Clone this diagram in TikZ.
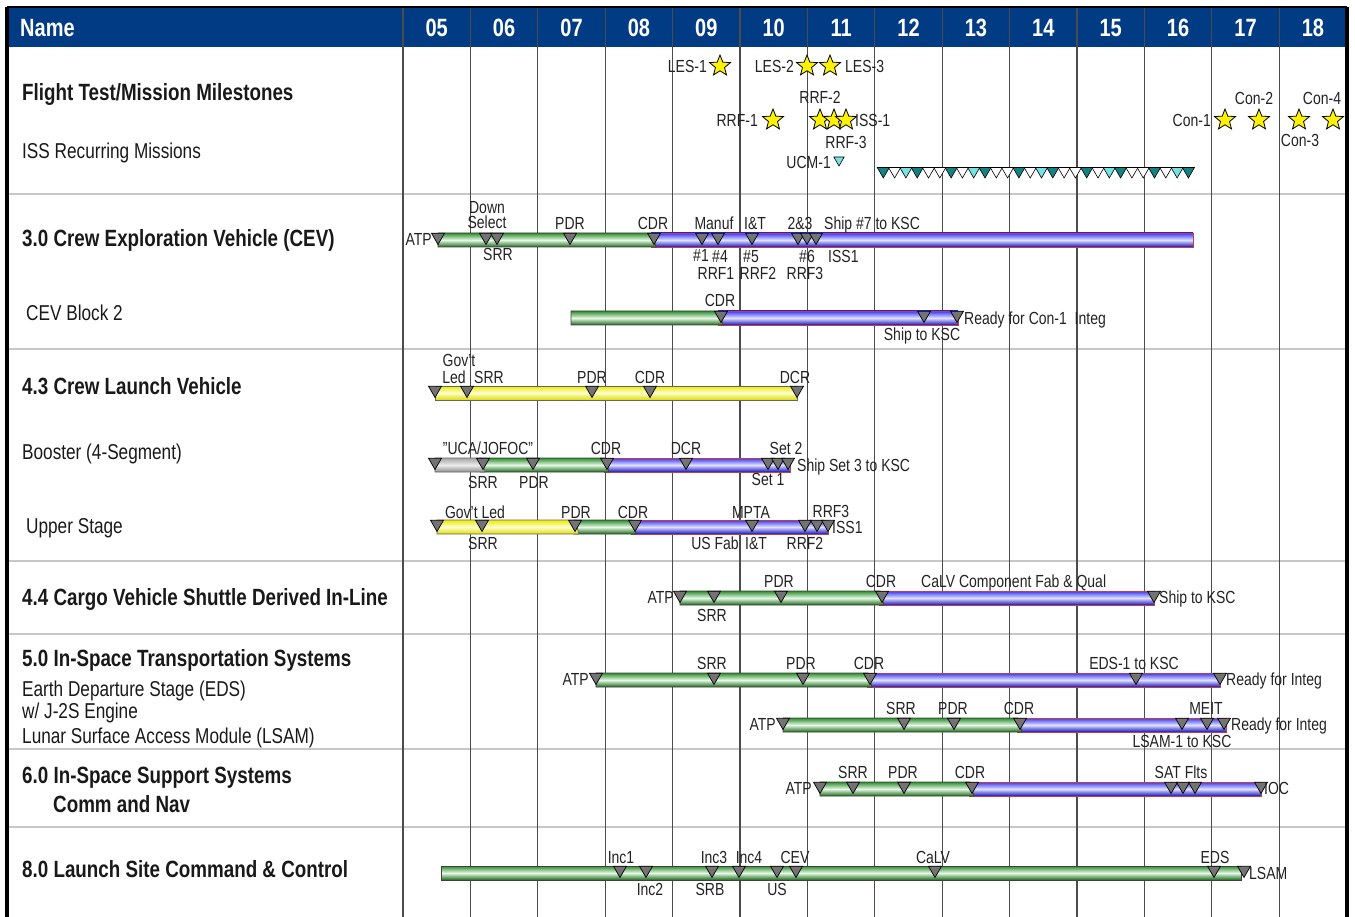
\documentclass[tikz,border=0pt]{standalone}
\usepackage{fontspec}
\setmainfont{Liberation Sans}[FakeStretch=0.8]
\usetikzlibrary{shapes.geometric}
\definecolor{hdrblue}{RGB}{0,59,132}
\definecolor{gtop}{RGB}{45,140,45}
\definecolor{gmid}{RGB}{230,248,230}
\definecolor{gbot}{RGB}{25,105,25}
\definecolor{btop}{RGB}{55,55,245}
\definecolor{bmid}{RGB}{225,225,255}
\definecolor{bbot}{RGB}{20,20,190}
\definecolor{bline}{RGB}{200,60,60}
\definecolor{ytop}{RGB}{235,235,0}
\definecolor{ymid}{RGB}{255,255,210}
\definecolor{ybot}{RGB}{220,220,0}
\definecolor{teal1}{RGB}{20,130,130}
\definecolor{cyan1}{RGB}{120,225,225}
\definecolor{lblgray}{RGB}{35,35,35}

\begin{document}
\begin{tikzpicture}[x=1pt,y=-1pt]
\tikzset{
  yr/.style={font=\fontsize{25}{27}\selectfont\bfseries, text=white, inner sep=0pt, text height=17.9pt, text depth=0pt},
  head/.style={font=\fontsize{23.5}{25}\selectfont\bfseries, text=black!90, anchor=west, inner sep=0pt, text height=16.8pt, text depth=0pt},
  sub/.style={font=\fontsize{21.5}{23}\selectfont, text=black!90, anchor=west, inner sep=0pt, text height=15.4pt, text depth=0pt},
  lbl/.style={font=\fontsize{17.5}{19}\selectfont, text=lblgray, inner sep=0pt, text height=12.5pt, text depth=0pt},
  tri/.style={regular polygon, regular polygon sides=3, shape border rotate=180, draw=black, fill=black!55, minimum size=15pt, inner sep=0pt, line width=0.7pt},
  misstri/.style={regular polygon, regular polygon sides=3, shape border rotate=180, draw=black, minimum size=14pt, inner sep=0pt, line width=0.6pt},
  ftstar/.style={star, star points=5, star point ratio=2.3, draw=black, fill=yellow, minimum size=22pt, inner sep=0pt, line width=0.8pt},
  greenbar/.style={draw=black!75, line width=0.8pt, top color=gtop, bottom color=gbot, middle color=gmid},
  bluebar/.style={draw=bline, line width=0.8pt, top color=btop, bottom color=bbot, middle color=bmid},
  yellowbar/.style={draw=black!60, line width=0.8pt, top color=ytop, bottom color=ybot, middle color=ymid},
  graybar/.style={draw=black!60, line width=0.8pt, top color=black!35, bottom color=black!45, middle color=black!8},
  gridline/.style={draw=black!70, line width=1.2pt},
  divider/.style={draw=black!22, line width=2.5pt}
}
\useasboundingbox (0,0) rectangle (1355,917);

% header
\fill[hdrblue] (7,7) rectangle (1347,47);
\node[yr, anchor=west] (hname) at (20,28) {Name};
\foreach \t [count=\k from 0] in {05,06,07,08,09,10,11,12,13,14,15,16,17,18}
  \node[yr] (yr\t) at ({403+67.4*(\k+0.5)},28) {\t};

% grid
\foreach \y in {194,349,561,634,749,827}
  \draw[divider] (9,\y) -- (1345,\y);
\foreach \k in {0,...,13}
  \draw[gridline] ({403+67.4*\k},7) -- ({403+67.4*\k},917);
\draw[line width=4pt] (7,7) -- (7,917);
\draw[line width=4pt] (1347,7) -- (1347,917);
\draw[line width=2pt] (7,7) -- (1347,7);

% row names
\node[head] (nflight) at (22,92) {Flight Test/Mission Milestones};
\node[sub] (niss) at (22,151) {ISS Recurring Missions};
\node[head] (ncev) at (22,238) {3.0 Crew Exploration Vehicle (CEV)};
\node[sub] (nblock) at (26,313) {CEV Block 2};
\node[head] (nclv) at (22,386) {4.3 Crew Launch Vehicle};
\node[sub] (nbooster) at (22,452) {Booster (4-Segment)};
\node[sub] (nupper) at (26,526) {Upper Stage};
\node[head] (ncalv) at (22,597) {4.4 Cargo Vehicle Shuttle Derived In-Line};
\node[head] (nist) at (22,658) {5.0 In-Space Transportation Systems};
\node[sub] (neds) at (22,689) {Earth Departure Stage (EDS)};
\node[sub] (nj2s) at (22,711) {w/ J-2S Engine};
\node[sub] (nlsam) at (22,736) {Lunar Surface Access Module (LSAM)};
\node[head] (niss6) at (22,775) {6.0 In-Space Support Systems};
\node[head] (ncomm) at (53,804) {Comm and Nav};
\node[head] (nlaunch) at (22,869) {8.0 Launch Site Command \& Control};

% milestones
\foreach \x/\y [count=\i] in {720/66,807/66,830/66,773/120,820/120,834/120,846/120,1225/120,1259/120,1299/120,1333/120}
  \node[ftstar] (star\i) at (\x,\y) {};
\node[lbl, anchor=east] (les1) at (707,66) {LES-1};
\node[lbl, anchor=east] (les2) at (794,66) {LES-2};
\node[lbl, anchor=west] (les3) at (845,66) {LES-3};
\node[lbl] (rrf2) at (820,97) {RRF-2};
\node[lbl, anchor=east] (rrf1) at (758,120) {RRF-1};
\node[lbl, anchor=west] (iss1) at (855,120) {ISS-1};
\node[lbl] (rrf3) at (846,142) {RRF-3};
\node[lbl, anchor=east] (ucm1) at (831,162) {UCM-1};
\node[misstri, fill=cyan1, minimum size=12pt] (ucmtri) at (839,160) {};
\node[lbl, anchor=east] (con1) at (1211,120) {Con-1};
\node[lbl] (con2) at (1254,98) {Con-2};
\node[lbl] (con4) at (1322,98) {Con-4};
\node[lbl] (con3) at (1300,140) {Con-3};
\foreach \c [count=\i from 0] in {teal1,white,cyan1,teal1,white,white,teal1,white,cyan1,teal1,white,white,teal1,white,cyan1,teal1,white,white,teal1,white,cyan1,teal1,white,white,teal1,white,cyan1,teal1}
  \node[misstri, fill=\c] (iss\i) at ({883.3+11.3*\i},171) {};

% 3.0 CEV
\shade[bluebar] (651,233) rectangle (1193,247);
\shade[greenbar] (438,233) -- (652,233) -- (656,247) -- (438,247) -- cycle;
\foreach \x [count=\i] in {438,486,497,570,654,702,718,752,798,807,816}
  \node[tri] (cevm\i) at (\x,237) {};
\node[lbl, anchor=east] (cevatp) at (432,239) {ATP};
\foreach \x/\y/\t [count=\i] in {487/207/Down,487/222/Select,570/223/PDR,653/223/CDR,714/223/Manuf,755/223/I\&T,800/223/2\&3,498/254/SRR,701/255/\#1,720/256/\#4,716/273/RRF1,751/256/\#5,758/273/RRF2,807/256/\#6,805/273/RRF3}
  \node[lbl] (cevl\i) at (\x,\y) {\t};
\node[lbl, anchor=west] (cevship) at (824,223) {Ship \#7 to KSC};
\node[lbl, anchor=west] (ceviss) at (828,256) {ISS1};

% CEV Block 2
\shade[bluebar] (718,311) rectangle (958,325);
\shade[greenbar] (571,311) -- (719,311) -- (723,325) -- (571,325) -- cycle;
\foreach \x [count=\i] in {721,924,957}
  \node[tri] (blkm\i) at (\x,315) {};
\node[lbl] (blkcdr) at (720,300) {CDR};
\node[lbl] (blkship) at (922,334) {Ship to KSC};
\node[lbl, anchor=west] (blkready) at (964,318) {Ready for Con-1~ Integ};

% 4.3 CLV
\shade[yellowbar] (435,386) rectangle (797,400);
\foreach \x [count=\i] in {435,467,592,650,797}
  \node[tri] (clvm\i) at (\x,390) {};
\foreach \x/\y/\t [count=\i] in {459/360/Gov't,454/377/Led,489/377/SRR,592/377/PDR,650/377/CDR,795/377/DCR}
  \node[lbl] (clvl\i) at (\x,\y) {\t};

% Booster
\shade[bluebar] (604,458) rectangle (790,472);
\shade[greenbar] (480,458) -- (605,458) -- (609,472) -- (480,472) -- cycle;
\shade[graybar] (435,458) -- (481,458) -- (485,472) -- (435,472) -- cycle;
\foreach \x [count=\i] in {435,483,533,607,686,768,778,788}
  \node[tri] (bstm\i) at (\x,462) {};
\node[lbl] (bstuca) at (488,448) {"UCA/JOFOC"};
\foreach \x/\y/\t [count=\i] in {483/482/SRR,534/482/PDR,606/448/CDR,686/448/DCR,786/448/Set 2,768/479/Set 1}
  \node[lbl] (bstl\i) at (\x,\y) {\t};
\node[lbl, anchor=west] (bstship) at (797,465) {Ship Set 3 to KSC};

% Upper Stage
\shade[bluebar] (631,520) rectangle (828,534);
\shade[greenbar] (574,520) -- (632,520) -- (636,534) -- (574,534) -- cycle;
\shade[yellowbar] (437,520) -- (575,520) -- (579,534) -- (437,534) -- cycle;
\foreach \x [count=\i] in {437,482,575,635,752,805,817,828}
  \node[tri] (usm\i) at (\x,524) {};
\foreach \x/\y/\t [count=\i] in {475/512/Gov't Led,483/543/SRR,576/512/PDR,633/512/CDR,751/512/MPTA,715/543/US Fab,756/543/I\&T,805/543/RRF2,831/511/RRF3}
  \node[lbl] (usl\i) at (\x,\y) {\t};
\node[lbl, anchor=west] (usiss) at (832,527) {ISS1};

% 4.4 CaLV
\shade[bluebar] (879,591) rectangle (1154,605);
\shade[greenbar] (680,591) -- (880,591) -- (884,605) -- (680,605) -- cycle;
\foreach \x [count=\i] in {680,714,781,882,1154}
  \node[tri] (calm\i) at (\x,595) {};
\node[lbl, anchor=east] (calatp) at (674,597) {ATP};
\foreach \x/\y/\t [count=\i] in {779/581/PDR,881/581/CDR,712/615/SRR}
  \node[lbl] (call\i) at (\x,\y) {\t};
\node[lbl, anchor=west] (calfab) at (921,581) {CaLV Component Fab \& Qual};
\node[lbl, anchor=west] (calship) at (1159,597) {Ship to KSC};

% 5.0 EDS
\shade[bluebar] (867,673) rectangle (1220,687);
\shade[greenbar] (596,673) -- (868,673) -- (872,687) -- (596,687) -- cycle;
\foreach \x [count=\i] in {596,714,803,870,1136,1220}
  \node[tri] (edsm\i) at (\x,677) {};
\node[lbl, anchor=east] (edsatp) at (589,679) {ATP};
\foreach \x/\y/\t [count=\i] in {712/663/SRR,801/663/PDR,869/663/CDR,1134/663/EDS-1 to KSC}
  \node[lbl] (edsl\i) at (\x,\y) {\t};
\node[lbl, anchor=west] (edsready) at (1226,679) {Ready for Integ};

% LSAM
\shade[bluebar] (1017,718) rectangle (1226,732);
\shade[greenbar] (783,718) -- (1018,718) -- (1022,732) -- (783,732) -- cycle;
\foreach \x [count=\i] in {783,904,954,1020,1182,1207,1224}
  \node[tri] (lsmm\i) at (\x,722) {};
\node[lbl, anchor=east] (lsmatp) at (776,724) {ATP};
\foreach \x/\y/\t [count=\i] in {901/708/SRR,953/708/PDR,1019/708/CDR,1206/708/MEIT,1182/741/LSAM-1 to KSC}
  \node[lbl] (lsml\i) at (\x,\y) {\t};
\node[lbl, anchor=west] (lsmready) at (1231,724) {Ready for Integ};

% 6.0 Comm and Nav
\shade[bluebar] (969,782) rectangle (1261,796);
\shade[greenbar] (820,782) -- (970,782) -- (974,796) -- (820,796) -- cycle;
\foreach \x [count=\i] in {820,853,904,972,1171,1183,1195,1261}
  \node[tri] (cnvm\i) at (\x,786) {};
\node[lbl, anchor=east] (cnvatp) at (812,788) {ATP};
\foreach \x/\y/\t [count=\i] in {853/772/SRR,903/772/PDR,970/772/CDR,1181/772/SAT Flts}
  \node[lbl] (cnvl\i) at (\x,\y) {\t};
\node[lbl, anchor=west] (cnvioc) at (1264,788) {IOC};

% 8.0 Launch Site
\shade[greenbar] (441,866) rectangle (1241,880);
\foreach \x [count=\i] in {620,646,712,739,777,796,935,1214,1244}
  \node[tri] (lscm\i) at (\x,870) {};
\foreach \x/\y/\t [count=\i] in {621/857/Inc1,714/857/Inc3,749/857/Inc4,795/857/CEV,933/857/CaLV,1215/857/EDS,650/889/Inc2,710/889/SRB,777/889/US}
  \node[lbl] (lscl\i) at (\x,\y) {\t};
\node[lbl, anchor=west] (lsclsam) at (1249,873) {LSAM};
\end{tikzpicture}
\end{document}
